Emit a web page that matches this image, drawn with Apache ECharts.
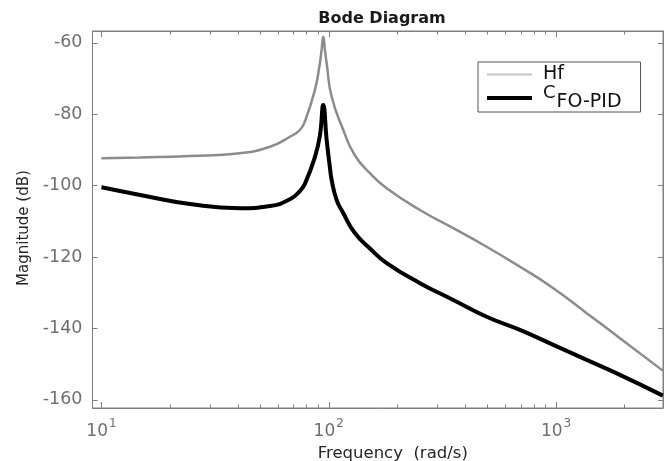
<!DOCTYPE html>
<html>
<head>
<meta charset="utf-8">
<script src="https://cdn.jsdelivr.net/npm/echarts@6/dist/echarts.min.js"></script>
<style>html,body{margin:0;padding:0;background:#fff}#c{width:672px;height:461px}</style>
</head>
<body>
<div id="c"></div>
<script>
// ---- data ----
var freqHf = [10, 14.8, 24.5, 40.6, 55.1, 67.5, 74.6, 78.5, 86.9, 91.4, 93.0, 94.6, 96.2, 97.9, 103.0, 115.9, 130, 151.8, 179.8, 252, 353, 495, 694, 973, 1364, 1911, 2950];
var magHf  = [-92.3, -92.1, -91.7, -90.9, -89.1, -86.3, -84.4, -82.0, -73.2, -65.7, -62.0, -58.3, -62.0, -65.7, -75.1, -84.4, -91.4, -96.5, -100.7, -106.8, -111.9, -117.1, -122.7, -128.7, -135.7, -142.7, -151.8];
var freqC  = [10, 14.8, 24.5, 40.6, 55.1, 67.5, 74.6, 78.5, 86.9, 91.4, 94.6, 97.9, 101.1, 103.0, 108.3, 115.9, 130, 151.8, 179.8, 252, 353, 495, 694, 973, 1364, 1911, 2950];
var magC   = [-100.45, -102.6, -105.1, -106.3, -105.7, -103.8, -101.5, -99.5, -92.0, -86.0, -77.4, -87.2, -94.7, -98.4, -104.0, -107.7, -113.2, -117.6, -121.7, -127.3, -132.0, -136.7, -140.4, -144.6, -148.8, -153.0, -158.8];
var xMajorTicks = [10, 100, 1000];
var xMinorTicks = [20, 30, 40, 50, 60, 70, 80, 90, 200, 300, 400, 500, 600, 700, 800, 900, 2000];
var yTicks = [-160, -140, -120, -100, -80, -60];
var xMin = 9.13, xMax = 2956, yMin = -162.27, yMax = -56.67;

function pairs(xs, ys){ return xs.map(function(x,i){ return [x, ys[i]]; }); }

var axisGray = '#7f7f7f';
var labelGray = '#6f6f6f';
var fontFam = '"DejaVu Sans", sans-serif';

function xAxisDef(pos, ticks, len, showLabel, showLine, name){
  var a = {
    type: 'log', logBase: 10, min: xMin, max: xMax, position: pos,
    axisLine: {show: showLine, lineStyle: {color: axisGray, width: 1}},
    axisTick: {show: true, inside: true, length: len, customValues: ticks, lineStyle: {color: axisGray, width: 1}},
    minorTick: {show: false},
    splitLine: {show: false},
    axisLabel: {show: false}
  };
  if (showLabel) {
    a.axisLabel = {
      show: true, customValues: xMajorTicks, margin: 10,
      formatter: function(v){ var e = Math.round(Math.log10(v)); return '{b|10}{s|' + e + '}'; },
      rich: {
        b: {fontSize: 17, fontFamily: fontFam, color: labelGray, verticalAlign: 'bottom', lineHeight: 22},
        s: {fontSize: 12, fontFamily: fontFam, color: labelGray, verticalAlign: 'top', lineHeight: 22, padding: [0,0,8,1]}
      }
    };
  }
  if (name) {
    a.name = name; a.nameLocation = 'middle'; a.nameGap = 34;
    a.nameTextStyle = {fontSize: 16.5, fontFamily: fontFam, color: '#262626', padding: [0,0,0,30]};
  }
  return a;
}

var option = {
  animation: false,
  backgroundColor: '#fff',
  title: {
    text: 'Bode Diagram', left: 377, top: 6, textAlign: 'center',
    textStyle: {fontSize: 16, fontWeight: 'bold', fontFamily: fontFam, color: '#1a1a1a'}
  },
  grid: {left: 92.5, right: 9, top: 31, bottom: 53, outerBoundsMode: 'none', containLabel: false,
         show: true, borderColor: axisGray, borderWidth: 1, backgroundColor: 'transparent'},
  legend: {
    orient: 'vertical', left: 478, top: 62,
    itemWidth: 45, itemHeight: 12, itemGap: 0,
    padding: [3, 19, 0, 7],
    backgroundColor: '#fff',
    borderColor: '#555', borderWidth: 1, borderRadius: 0,
    itemStyle: {opacity: 0},
    data: [
      {name: 'Hf', itemStyle: {opacity: 0}, lineStyle: {color: '#c4c4c4', width: 2}},
      {name: 'C', itemStyle: {opacity: 0}, lineStyle: {color: '#000', width: 4}}
    ],
    formatter: function(n){ return n === 'Hf' ? '{h|Hf}' : '{c|C}{f|FO-PID}'; },
    textStyle: {
      fontFamily: fontFam, color: '#111',
      rich: {
        h: {fontSize: 19, fontFamily: fontFam, color: '#111', padding: [0,0,0,6], lineHeight: 18},
        c: {fontSize: 18, fontFamily: fontFam, color: '#111', padding: [0,0,0,6], height: 18, lineHeight: 18, verticalAlign: 'top'},
        f: {fontSize: 19, fontFamily: fontFam, color: '#111', padding: [0,0,0,1], height: 19, lineHeight: 28, verticalAlign: 'bottom'}
      }
    }
  },
  xAxis: [
    xAxisDef('bottom', xMajorTicks, 6, true, true, 'Frequency  (rad/s)'),
    xAxisDef('bottom', xMinorTicks, 3.5, false, false),
    xAxisDef('top', xMajorTicks, 6, false, true),
    xAxisDef('top', xMinorTicks, 3.5, false, false)
  ],
  yAxis: [
    {
      type: 'value', min: yMin, max: yMax, position: 'left',
      axisLine: {show: true, lineStyle: {color: axisGray}},
      axisTick: {show: true, inside: true, length: 5, customValues: yTicks, lineStyle: {color: axisGray}},
      splitLine: {show: false},
      axisLabel: {show: true, customValues: yTicks, margin: 10, fontSize: 17.5, fontFamily: fontFam, color: labelGray},
      name: 'Magnitude (dB)', nameLocation: 'middle', nameGap: 59,
      nameTextStyle: {fontSize: 15, fontFamily: fontFam, color: '#262626', padding: [0, 17, 0, 0]}
    },
    {
      type: 'value', min: yMin, max: yMax, position: 'right',
      axisLine: {show: true, lineStyle: {color: axisGray}},
      axisTick: {show: true, inside: true, length: 5, customValues: yTicks, lineStyle: {color: axisGray}},
      splitLine: {show: false},
      axisLabel: {show: false}
    }
  ],
  series: [
    {
      name: 'Hf', type: 'line', xAxisIndex: 0, yAxisIndex: 0,
      data: pairs(freqHf, magHf), showSymbol: false, symbol: 'none',
      smooth: 0.5,
      lineStyle: {color: '#8c8c8c', width: 2.5}, itemStyle: {color: '#8c8c8c'}
    },
    {
      name: 'C', type: 'line', xAxisIndex: 0, yAxisIndex: 0,
      data: pairs(freqC, magC), showSymbol: false, symbol: 'none',
      smooth: 0.5,
      lineStyle: {color: '#000', width: 4}, itemStyle: {color: '#000'}
    }
  ]
};
var chart = echarts.init(document.getElementById('c'), null, {renderer: 'canvas'});
chart.setOption(option);
</script>
</body>
</html>
